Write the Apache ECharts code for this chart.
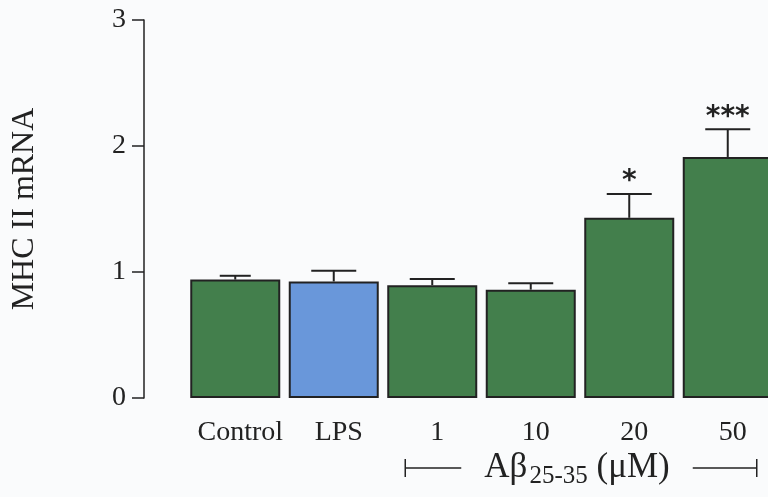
<!DOCTYPE html>
<html>
<head>
<meta charset="utf-8">
<script src="https://cdn.jsdelivr.net/npm/echarts@6/dist/echarts.min.js"></script>
<style>
html,body{margin:0;padding:0;background:#fafbfc;}
#main{width:768px;height:497px;}
</style>
</head>
<body>
<div id="main"></div>
<script>
const categories = ['Control', 'LPS', '1', '10', '20', '50'];
const means = [0.94, 0.925, 0.895, 0.86, 1.43, 1.913];
const errors = [0.03, 0.085, 0.05, 0.05, 0.19, 0.22];
const marks = ['', '', '', '', '*', '***'];
const yTicks = [0, 1, 2, 3];

const GREEN = '#437f4c';
const BLUE = '#6997da';
const INK = '#222';
const FONT = '"Liberation Serif", "Times New Roman", serif';

const chart = echarts.init(document.getElementById('main'));

const barData = means.map((v, i) => ({
  value: v,
  itemStyle: { color: i === 1 ? BLUE : GREEN }
}));

const option = {
  backgroundColor: '#fafbfc',
  animation: false,
  grid: { left: 186, right: -9, top: 20, bottom: 99, containLabel: false, outerBoundsMode: 'none' },
  xAxis: {
    type: 'category',
    data: categories,
    axisLine: { show: false },
    axisTick: { show: false },
    axisLabel: { interval: 0, color: INK, fontFamily: FONT, fontSize: 28, margin: 21, padding: [0, 0, 0, 10] }
  },
  yAxis: {
    type: 'value',
    min: yTicks[0],
    max: yTicks[yTicks.length - 1],
    interval: 1,
    offset: 42,
    splitLine: { show: false },
    axisLine: { show: true, lineStyle: { color: INK, width: 1.5 } },
    axisTick: { show: true, length: 12, lineStyle: { color: INK, width: 1.5 } },
    axisLabel: { color: INK, fontFamily: FONT, fontSize: 28, margin: 18 },
    name: 'MHC II mRNA',
    nameLocation: 'middle',
    nameGap: 103,
    nameTextStyle: { color: INK, fontFamily: FONT, fontSize: 32 }
  },
  series: [
    {
      type: 'bar',
      data: barData,
      barWidth: 90,
      itemStyle: { borderColor: INK, borderWidth: 2 },
      z: 2
    },
    {
      type: 'custom',
      z: 3,
      data: means.map((m, i) => [i, m, m + errors[i], marks[i]]),
      renderItem: function (params, api) {
        const i = api.value(0);
        const top = api.coord([i, api.value(2)]);
        const base = api.coord([i, api.value(1)]);
        const half = (i === 0 ? 31 : 45) / 2;
        const children = [
          { type: 'line', shape: { x1: base[0], y1: base[1], x2: top[0], y2: top[1] },
            style: { stroke: INK, lineWidth: 2 } },
          { type: 'line', shape: { x1: top[0] - half, y1: top[1], x2: top[0] + half, y2: top[1] },
            style: { stroke: INK, lineWidth: 2 } }
        ];
        const mk = marks[i];
        if (mk) {
          children.push({
            type: 'text',
            style: {
              text: mk, x: top[0], y: top[1] + 2,
              align: 'center', verticalAlign: 'bottom',
              font: 'bold 28px "DejaVu Sans", sans-serif',
              fill: INK
            }
          });
        }
        return { type: 'group', children: children };
      }
    }
  ]
};
chart.setOption(option);

// bracket annotation under the Abeta categories
const p1 = chart.convertToPixel({ xAxisIndex: 0 }, '1');
const p50 = chart.convertToPixel({ xAxisIndex: 0 }, '50');
const yB = 468;
const xL = p1 - 27, xR = p50 + 29;
chart.setOption({
  graphic: [
    { type: 'line', shape: { x1: xL, y1: yB - 9, x2: xL, y2: yB + 9 }, style: { stroke: INK, lineWidth: 1.5 } },
    { type: 'line', shape: { x1: xL, y1: yB, x2: xL + 56, y2: yB }, style: { stroke: INK, lineWidth: 1.5 } },
    { type: 'line', shape: { x1: xR - 64, y1: yB, x2: xR, y2: yB }, style: { stroke: INK, lineWidth: 1.5 } },
    { type: 'line', shape: { x1: xR, y1: yB - 9, x2: xR, y2: yB + 9 }, style: { stroke: INK, lineWidth: 1.5 } },
    {
      type: 'text',
      x: (xL + 56 + xR - 64) / 2,
      y: yB,
      style: {
        text: '{a|Aβ}{s|25-35}{a| (μM)}',
        align: 'center', verticalAlign: 'middle',
        rich: {
          a: { fontFamily: FONT, fontSize: 35, fill: INK, color: INK },
          s: { fontFamily: FONT, fontSize: 25, fill: INK, color: INK, padding: [17, 0, 0, 2] }
        }
      }
    }
  ]
});
</script>
</body>
</html>
